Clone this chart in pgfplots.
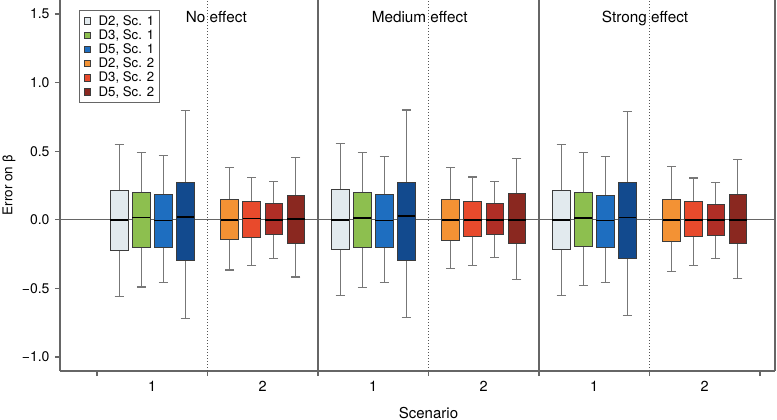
\documentclass[border=0pt]{standalone}
\usepackage{pgfplots}
\pgfplotsset{compat=1.18}
\usepgfplotslibrary{statistics}
\usepackage{fontspec}
\setmainfont{TeX Gyre Heros}
\definecolor{cLight}{HTML}{E2EAEE}
\definecolor{cGreen}{HTML}{8DBF4F}
\definecolor{cBlue}{HTML}{1E6EC0}
\definecolor{cDBlue}{HTML}{124A8E}
\definecolor{cOrange}{HTML}{F39234}
\definecolor{cRed}{HTML}{E84A2C}
\definecolor{cBrown}{HTML}{B02E26}
\definecolor{cDRed}{HTML}{8A2820}
\definecolor{axgray}{HTML}{666666}
\definecolor{dotgray}{HTML}{555555}
\definecolor{whgray}{HTML}{777777}
\definecolor{boxedge}{HTML}{3C3C3C}
% #1 colour, #2 position, #3 lower whisker, #4 lower quartile, #5 median, #6 upper quartile, #7 upper whisker
\newcommand{\bx}[7]{\addplot[forget plot, fill=#1, draw=boxedge, line width=0.8pt,
  boxplot prepared={draw direction=y, draw position=#2, lower whisker=#3, lower quartile=#4,
  median=#5, upper quartile=#6, upper whisker=#7, box extend=0.16, whisker extend=0.08}]
  coordinates {};}
\begin{document}
\begin{tikzpicture}
\begin{axis}[name=ax, scale only axis, width=715pt, height=371pt,
  xmin=0.165, xmax=6.636, ymin=-1.102, ymax=1.602, clip=false,
  axis x line*=bottom, axis y line*=left,
  axis line style={draw=axgray, line width=1.1pt, -},
  xtick={0.5,1.5,...,6.5}, xticklabels={},
  extra x ticks={1,2,3,4,5,6}, extra x tick labels={1,2,1,2,1,2},
  extra x tick style={major tick length=0pt, xticklabel style={yshift=-7pt}},
  ytick={-1,-0.5,0,0.5,1,1.5}, yticklabels={−1.0,−0.5,0.0,0.5,1.0,1.5},
  tick align=outside, major tick length=5pt,
  every tick/.style={draw=axgray, line width=1.1pt},
  xticklabel style={font=\fontsize{14.5}{14.5}\selectfont, text=black},
  yticklabel style={font=\fontsize{14}{14}\selectfont, text=black, xshift=-2pt},
  boxplot/every whisker/.style={draw=whgray, line width=1.1pt},
  boxplot/every median/.style={draw=black, line width=1.6pt},
  legend image code/.code={\draw[#1, line width=0.5pt] (1pt,-3pt) rectangle (7.5pt,3.5pt); \path (0pt,0pt) (13pt,0pt);},
  legend cell align=left,
  legend style={at={(rel axis cs:0.027,0.973)}, anchor=north west, draw=axgray, line width=0.9pt,
    font=\fontsize{13.2}{13.2}\selectfont, row sep=-1.2pt, inner xsep=3pt, inner ysep=3pt},
]
\addlegendimage{fill=cLight, draw=boxedge}\addlegendentry{D2, Sc. 1}
\addlegendimage{fill=cGreen, draw=boxedge}\addlegendentry{D3, Sc. 1}
\addlegendimage{fill=cBlue, draw=boxedge}\addlegendentry{D5, Sc. 1}
\addlegendimage{fill=cOrange, draw=boxedge}\addlegendentry{D2, Sc. 2}
\addlegendimage{fill=cRed, draw=boxedge}\addlegendentry{D3, Sc. 2}
\addlegendimage{fill=cDRed, draw=boxedge}\addlegendentry{D5, Sc. 2}
% zero line and separators
\addplot[forget plot, draw=axgray, line width=1pt] coordinates {(0.165,0) (6.636,0)};
\addplot[forget plot, draw=axgray, line width=1.1pt] coordinates {(6.636,-1.102) (6.636,1.602)};
\addplot[forget plot, draw=axgray, line width=1.1pt] coordinates {(2.5,-1.102) (2.5,1.602)};
\addplot[forget plot, draw=axgray, line width=1.1pt] coordinates {(4.5,-1.102) (4.5,1.602)};
\addplot[forget plot, draw=dotgray, line width=1.3pt, dash pattern=on 1.3pt off 1.7pt] coordinates {(1.5,-1.102) (1.5,1.602)};
\addplot[forget plot, draw=dotgray, line width=1.3pt, dash pattern=on 1.3pt off 1.7pt] coordinates {(3.5,-1.102) (3.5,1.602)};
\addplot[forget plot, draw=dotgray, line width=1.3pt, dash pattern=on 1.3pt off 1.7pt] coordinates {(5.5,-1.102) (5.5,1.602)};
% No effect
\bx{cLight}{0.7}{-0.556}{-0.223}{0.0}{0.215}{0.551}
\bx{cGreen}{0.9}{-0.49}{-0.198}{0.018}{0.203}{0.49}
\bx{cBlue}{1.1}{-0.456}{-0.203}{-0.004}{0.188}{0.466}
\bx{cDBlue}{1.3}{-0.717}{-0.298}{0.02}{0.274}{0.799}
\bx{cOrange}{1.7}{-0.366}{-0.14}{0.0}{0.15}{0.378}
\bx{cRed}{1.9}{-0.332}{-0.128}{0.01}{0.137}{0.308}
\bx{cBrown}{2.1}{-0.279}{-0.108}{0.0}{0.12}{0.276}
\bx{cDRed}{2.3}{-0.417}{-0.169}{0.004}{0.181}{0.454}
% Medium effect
\bx{cLight}{2.7}{-0.551}{-0.218}{0.0}{0.22}{0.556}
\bx{cGreen}{2.9}{-0.493}{-0.198}{0.011}{0.203}{0.49}
\bx{cBlue}{3.1}{-0.456}{-0.203}{-0.006}{0.188}{0.464}
\bx{cDBlue}{3.3}{-0.714}{-0.296}{0.026}{0.274}{0.8}
\bx{cOrange}{3.7}{-0.354}{-0.147}{0.0}{0.147}{0.383}
\bx{cRed}{3.9}{-0.33}{-0.123}{0.0}{0.137}{0.312}
\bx{cBrown}{4.1}{-0.274}{-0.106}{0.0}{0.123}{0.276}
\bx{cDRed}{4.3}{-0.432}{-0.172}{0.0}{0.196}{0.444}
% Strong effect
\bx{cLight}{4.7}{-0.551}{-0.215}{0.0}{0.213}{0.551}
\bx{cGreen}{4.9}{-0.478}{-0.196}{0.011}{0.199}{0.49}
\bx{cBlue}{5.1}{-0.454}{-0.2}{-0.006}{0.181}{0.464}
\bx{cDBlue}{5.3}{-0.699}{-0.283}{0.018}{0.269}{0.787}
\bx{cOrange}{5.7}{-0.374}{-0.155}{0.0}{0.15}{0.39}
\bx{cRed}{5.9}{-0.332}{-0.123}{0.0}{0.133}{0.305}
\bx{cBrown}{6.1}{-0.279}{-0.111}{0.0}{0.115}{0.269}
\bx{cDRed}{6.3}{-0.427}{-0.172}{0.0}{0.188}{0.437}
% group titles
\node[anchor=base, font=\fontsize{15.3}{15.3}\selectfont] at (axis cs:1.58,1.436) {No effect};
\node[anchor=base, font=\fontsize{15.3}{15.3}\selectfont] at (axis cs:3.42,1.436) {Medium effect};
\node[anchor=base, font=\fontsize{15.3}{15.3}\selectfont] at (axis cs:5.46,1.436) {Strong effect};
\node[anchor=base, font=\fontsize{15}{15}\selectfont, yshift=-47pt] at (axis cs:3.5,-1.102) {Scenario};
\end{axis}
\node[rotate=90, anchor=center, font=\fontsize{13.5}{13.5}\selectfont] at ([xshift=-51pt]ax.west) {Error on β};
\pgfresetboundingbox
\useasboundingbox ([shift={(-60pt,-49pt)}]ax.south west) rectangle ([shift={(2pt,0pt)}]ax.north east);
\end{tikzpicture}
\end{document}
